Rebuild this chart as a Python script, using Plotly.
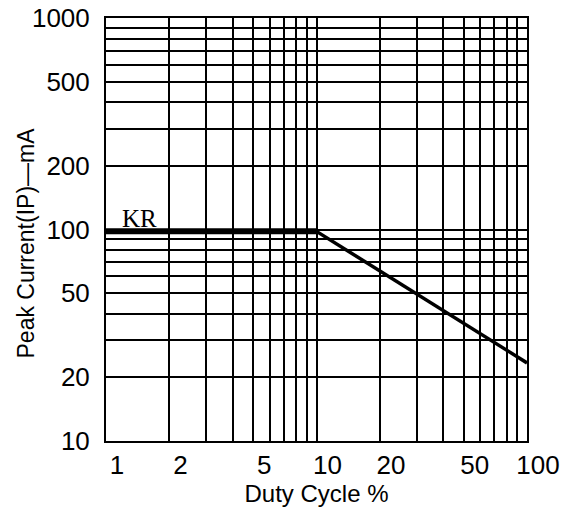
import numpy as np
import plotly.graph_objects as go

# data
duty_flat = [1, 10]
current_flat = [98, 98]
duty_slope = [10, 100]
current_slope = [98, 23.4]

x_grid = [1, 2, 3, 4, 5, 6, 7, 8, 9, 10, 20, 30, 40, 50, 60, 70, 80, 90, 100]
x_text = ["1", "2", "", "", "5", "", "", "", "", "10", "20", "", "", "50", "", "", "", "", "100"]
y_grid = [10, 20, 30, 40, 50, 60, 70, 80, 90, 100, 200, 300, 400, 500, 600, 700, 800, 900, 1000]
y_text = ["10", "20", "", "", "50", "", "", "", "", "100", "200", "", "", "500", "", "", "", "", "1000"]
series_label = "KR"
x_title = "Duty Cycle %"
y_title = "Peak Current(IP)—mA"

FONT = "Liberation Sans, Arial, sans-serif"

fig = go.Figure()
fig.add_trace(go.Scatter(x=duty_flat, y=current_flat, mode="lines",
                         line=dict(color="black", width=6), showlegend=False))
fig.add_trace(go.Scatter(x=duty_slope, y=current_slope, mode="lines",
                         line=dict(color="black", width=3.5), showlegend=False))

fig.add_annotation(x=np.log10(1.45), y=np.log10(current_flat[0]), xref="x", yref="y",
                   text=series_label, showarrow=False, yanchor="bottom", yshift=-3,
                   font=dict(family="Liberation Serif, Times New Roman, serif", size=25, color="black"))

fig.add_annotation(x=0, y=0.5, xref="paper", yref="paper", text=y_title, textangle=-90,
                   showarrow=False, xanchor="center", yanchor="middle", xshift=-81, yshift=-14,
                   font=dict(family=FONT, size=23, color="black"))

fig.update_xaxes(type="log", range=[0, 2], tickmode="array", tickvals=x_grid, ticktext=x_text,
                 showgrid=True, gridcolor="black", gridwidth=2,
                 showline=True, linecolor="black", linewidth=2, mirror=True,
                 ticks="", ticklabelshift=11, ticklabelstandoff=0, automargin=False,
                 ticklabeloverflow="allow",
                 tickfont=dict(family=FONT, size=26, color="black"),
                 title=dict(text=x_title, standoff=0,
                            font=dict(family=FONT, size=24, color="black")),
                 zeroline=False)
fig.update_yaxes(type="log", range=[1, 3], tickmode="array", tickvals=y_grid, ticktext=y_text,
                 showgrid=True, gridcolor="black", gridwidth=2,
                 showline=True, linecolor="black", linewidth=2, mirror=True,
                 ticks="", ticklabelstandoff=9, automargin=False,
                 ticklabeloverflow="allow",
                 tickfont=dict(family=FONT, size=26, color="black"),
                 zeroline=False)

fig.update_layout(width=577, height=504, margin=dict(l=98, r=58, t=10, b=71),
                  paper_bgcolor="white", plot_bgcolor="white")

fig.write_html("out.html")
